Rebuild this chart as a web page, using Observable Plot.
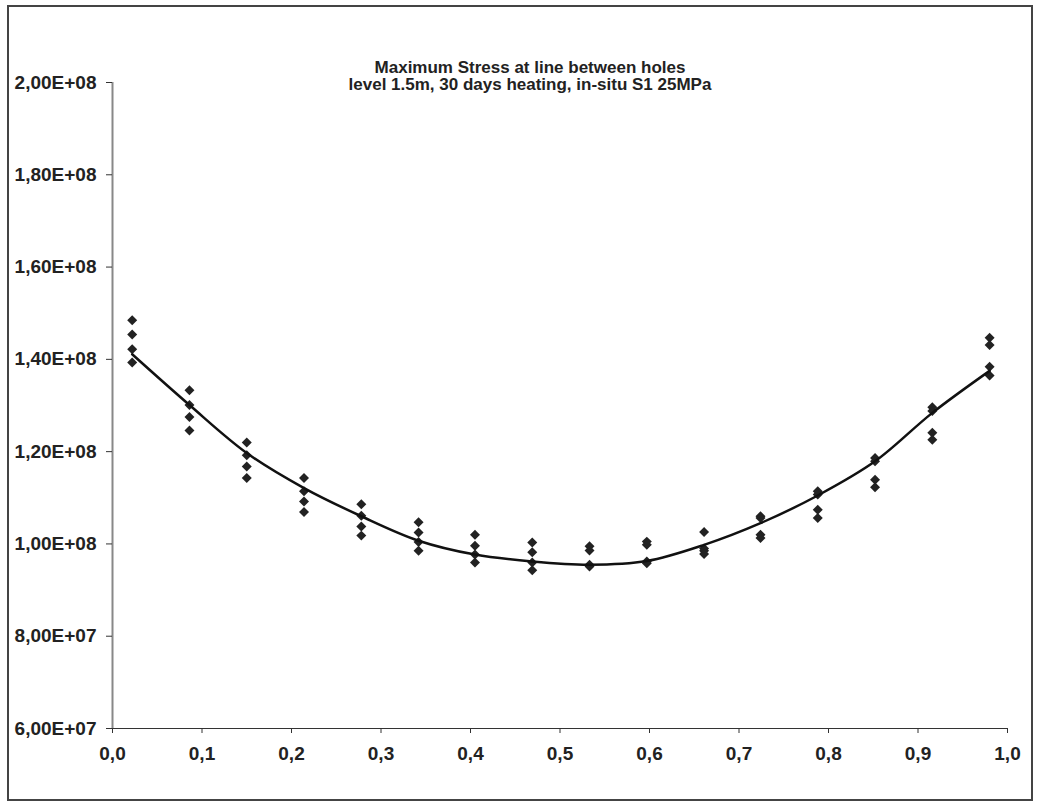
<!DOCTYPE html>
<html>
<head>
<meta charset="utf-8">
<script src="https://cdn.jsdelivr.net/npm/d3@7"></script>
<script src="https://cdn.jsdelivr.net/npm/@observablehq/plot@0.6"></script>
<style>
  html, body { margin: 0; padding: 0; background: #fff; }
  #wrap { position: relative; width: 1040px; height: 808px; font-family: "Liberation Sans", Arial, sans-serif; }
  #frame { position: absolute; left: 7px; top: 5px; width: 1026px; height: 796px; border: 2px solid #444; box-sizing: border-box; pointer-events: none; }
  #title { position: absolute; left: 0; top: 59px; width: 1060px; text-align: center; font-weight: bold; font-size: 17px; line-height: 17px; color: #222; }
  #chart { position: absolute; left: 0; top: 0; }
</style>
</head>
<body>
<div id="wrap">
  <div id="chart"></div>
  <div id="title">Maximum Stress at line between holes<br>level 1.5m, 30 days heating, in-situ S1 25MPa</div>
  <div id="frame"></div>
</div>
<script>
// Positions along the line between holes (normalised distance)
const positions = [0.022, 0.086, 0.150, 0.214, 0.278, 0.342, 0.405, 0.469, 0.533, 0.597, 0.661, 0.724, 0.788, 0.852, 0.916, 0.980];

// Four stress samples at each position (Pa)
const stressA = [1.485e8, 1.333e8, 1.220e8, 1.143e8, 1.086e8, 1.047e8, 1.020e8, 1.003e8, 0.995e8, 1.005e8, 1.026e8, 1.060e8, 1.114e8, 1.186e8, 1.296e8, 1.447e8];
const stressB = [1.454e8, 1.301e8, 1.192e8, 1.114e8, 1.061e8, 1.025e8, 0.996e8, 0.982e8, 0.986e8, 0.998e8, 0.990e8, 1.056e8, 1.107e8, 1.179e8, 1.288e8, 1.431e8];
const stressC = [1.422e8, 1.275e8, 1.168e8, 1.092e8, 1.038e8, 1.004e8, 0.977e8, 0.960e8, 0.955e8, 0.962e8, 0.985e8, 1.020e8, 1.074e8, 1.139e8, 1.241e8, 1.384e8];
const stressD = [1.393e8, 1.246e8, 1.143e8, 1.069e8, 1.018e8, 0.985e8, 0.960e8, 0.943e8, 0.951e8, 0.958e8, 0.978e8, 1.013e8, 1.056e8, 1.123e8, 1.226e8, 1.365e8];

// Fitted (smoothed) curve values at each position
const fitted = [1.411e8, 1.301e8, 1.197e8, 1.121e8, 1.060e8, 1.007e8, 0.977e8, 0.962e8, 0.955e8, 0.963e8, 0.998e8, 1.045e8, 1.105e8, 1.179e8, 1.284e8, 1.375e8];

// Tick values
const yTicks = [6e7, 8e7, 1e8, 1.2e8, 1.4e8, 1.6e8, 1.8e8, 2e8];
const xTicks = [0, 0.1, 0.2, 0.3, 0.4, 0.5, 0.6, 0.7, 0.8, 0.9, 1.0];

const points = [];
[stressA, stressB, stressC, stressD].forEach(series => {
  series.forEach((v, i) => points.push({x: positions[i], y: v}));
});
const curve = positions.map((x, i) => ({x, y: fitted[i]}));

const fmtY = v => {
  const [m, e] = v.toExponential(2).split("e");
  const n = Math.abs(+e);
  return m.replace(".", ",") + "E" + (+e < 0 ? "-" : "+") + String(n).padStart(2, "0");
};
const fmtX = v => v.toFixed(1).replace(".", ",");

const chart = Plot.plot({
  width: 1040,
  height: 808,
  marginLeft: 112,
  marginRight: 33,
  marginTop: 82,
  marginBottom: 80,
  style: {fontFamily: "'Liberation Sans', Arial, sans-serif", fontSize: "19px", fontWeight: "bold", color: "#222", background: "transparent"},
  x: {domain: [0, 1]},
  y: {domain: [6e7, 2e8]},
  marks: [
    Plot.ruleX([0], {stroke: "#888", strokeWidth: 2}),
    Plot.ruleY([6e7], {stroke: "#333", strokeWidth: 1.2}),
    Plot.axisY({ticks: yTicks, tickFormat: fmtY, tickSize: 6, tickPadding: 10, stroke: "#333", label: null, fontSize: 19, fontWeight: "bold"}),
    Plot.axisX({ticks: xTicks, tickFormat: fmtX, tickSize: 5, tickPadding: 13, stroke: "#333", label: null, fontSize: 19, fontWeight: "bold"}),
    Plot.dot(points, {x: "x", y: "y", symbol: "diamond2", r: 4.5, fill: "#222", stroke: "none"}),
    Plot.line(curve, {x: "x", y: "y", curve: "catmull-rom", stroke: "#111", strokeWidth: 2.5})
  ]
});
document.getElementById("chart").appendChild(chart);
</script>
</body>
</html>
